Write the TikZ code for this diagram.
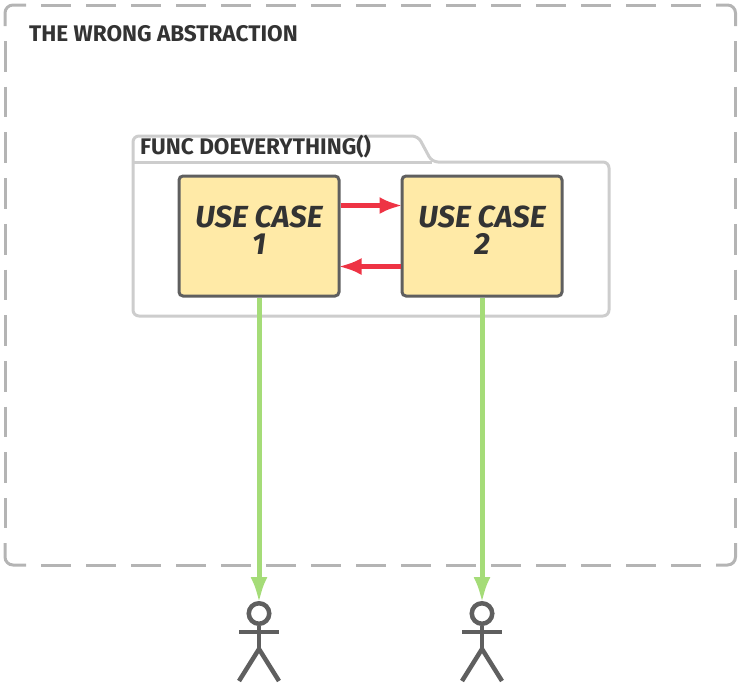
\documentclass[tikz,border=0pt]{standalone}
\usepackage{fontspec}
\setmainfont{Fira Sans}
\usetikzlibrary{arrows.meta}

\definecolor{boxfill}{HTML}{FFEAA7}
\definecolor{inkgrey}{HTML}{5F5F5F}
\definecolor{textgrey}{HTML}{333333}
\definecolor{framegrey}{HTML}{B4B4B4}
\definecolor{pkggrey}{HTML}{CDCDCD}
\definecolor{callred}{HTML}{EE3344}
\definecolor{usegreen}{HTML}{A5DC78}

\tikzset{
  usecase/.style={draw=inkgrey, fill=boxfill, line width=3pt, rounded corners=4pt,
    minimum width=160pt, minimum height=120pt, inner sep=0pt, text=textgrey,
    align=center, font=\fontsize{30.5}{30.5}\selectfont\bfseries\itshape},
  title/.style={anchor=base west, inner sep=0pt, text=textgrey,
    font=\fontsize{22.6}{22.6}\selectfont\bfseries},
  frameline/.style={framegrey, line width=3pt},
  call/.style={callred, line width=5pt, shorten >=-2pt, -{Latex[length=23pt,width=17pt]}},
  uses/.style={usegreen, line width=5pt, shorten >=-2pt, -{Latex[length=26pt,width=17pt]}},
  actorline/.style={draw=inkgrey, line width=4.5pt},
  head/.style={circle, draw=inkgrey, line width=4.5pt, fill=white, minimum size=20.5pt, inner sep=0pt}
}

\begin{document}
\begin{tikzpicture}[x=1pt, y=-1pt]

\useasboundingbox (0,0) rectangle (746,689);

% -------- Frames -----------
\draw [frameline, dash pattern=on 30pt off 15pt] (41,5) -- (701,5);
\draw [frameline, dash pattern=on 30pt off 15pt] (41,565) -- (701,565);
\draw [frameline, dash pattern=on 30.7pt off 15pt] (5,41) -- (5,528);
\draw [frameline, dash pattern=on 30.7pt off 15pt] (735.5,41) -- (735.5,528);
\draw [frameline, rounded corners=8pt] (5,26) -- (5,5) -- (26,5);
\draw [frameline, rounded corners=8pt] (716,5) -- (735.5,5) -- (735.5,26);
\draw [frameline, rounded corners=8pt] (5,543) -- (5,565) -- (26,565);
\draw [frameline, rounded corners=8pt] (716,565) -- (735.5,565) -- (735.5,543);
\node [title] (frametitle) at (29,41) {THE WRONG ABSTRACTION};

\draw [pkggrey, line width=3pt, rounded corners=6pt]
  (133,316) -- (133,136) -- (418,136) -- (432,162) -- (609,162) -- (609,316) -- cycle;
\draw [pkggrey, line width=3pt] (133,162) -- (432,162);
\node [title] (pkgtitle) at (140,154) {FUNC DOEVERYTHING()};

% -------- Use cases -----------
\node [usecase] (case1) at (259,236) {\raisebox{-5pt}[0pt][0pt]{\begin{tabular}{@{}c@{}}USE CASE\\[-3.5pt]1\end{tabular}}};
\node [usecase] (case2) at (482,236) {\raisebox{-5pt}[0pt][0pt]{\begin{tabular}{@{}c@{}}USE CASE\\[-3.5pt]2\end{tabular}}};

% -------- Actors -----------
\node [head] (head1) at (259,613.5) {};
\node [head] (head2) at (482,613.5) {};

\foreach \n/\x in {1/259, 2/482} {
  \coordinate (hip\n) at (\x,649);
  \coordinate (arml\n) at (\x-20,632);
  \coordinate (armr\n) at (\x+20,632);
  \coordinate (footl\n) at (\x-20,681);
  \coordinate (footr\n) at (\x+20,681);
  \draw [actorline] (head\n.south) -- (hip\n);
  \draw [actorline] (arml\n) -- (armr\n);
  \draw [actorline] (footl\n) -- (hip\n) -- (footr\n);
}

% -------- Connectors -----------
\draw [call] ([yshift=30.5pt]case1.east) -- ([yshift=30.5pt]case2.west);
\draw [call] ([yshift=-30.5pt]case2.west) -- ([yshift=-30.5pt]case1.east);
\draw [uses] (case1.south) -- (head1.north);
\draw [uses] (case2.south) -- (head2.north);

\end{tikzpicture}
\end{document}
